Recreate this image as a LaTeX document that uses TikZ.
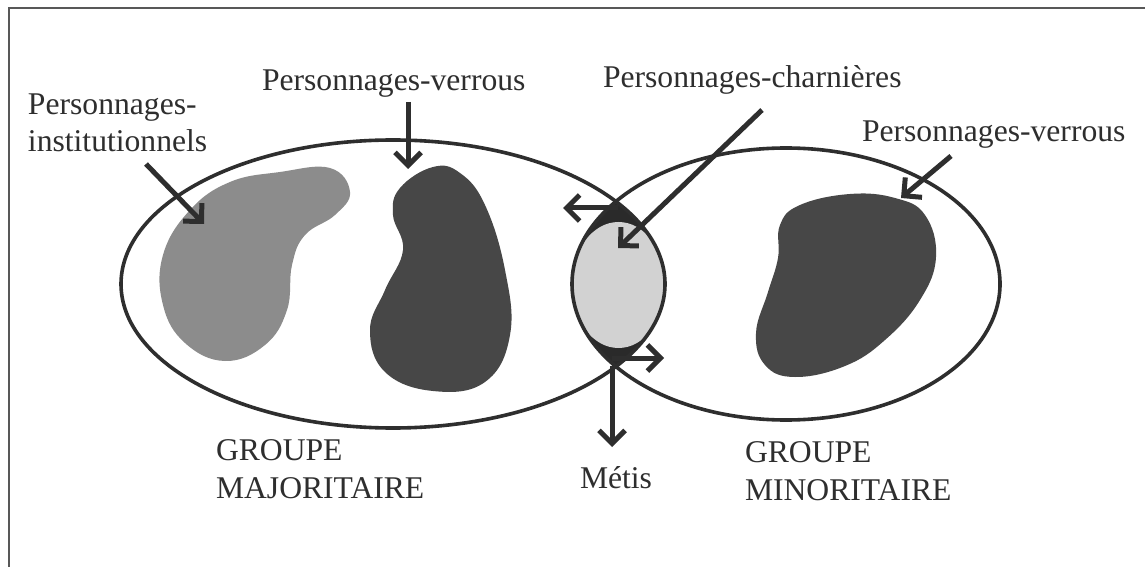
\documentclass[tikz,border=0pt]{standalone}
\usepackage{fontspec}
\setmainfont{Liberation Serif}
\usetikzlibrary{arrows.meta}
\definecolor{ink}{HTML}{2E2E2E}
\definecolor{blobmid}{HTML}{8C8C8C}
\definecolor{blobdark}{HTML}{474747}
\definecolor{lenslight}{HTML}{D2D2D2}
\definecolor{lensdark}{HTML}{2A2A2A}
\begin{document}
\begin{tikzpicture}[x=0.02cm,y=-0.02cm,
  lbl/.style={inner sep=0pt, outer sep=0pt, text=ink, font=\fontsize{18}{21.5}\selectfont, anchor=base west, align=left},
  groupline/.style={draw=ink, line width=0.072cm},
  ptr/.style={draw=ink, line width=0.1cm, -{Straight Barb[length=0.26cm,width=0.52cm,line width=0.1cm]}},
  framel/.style={draw=ink!80, line width=0.05cm}
]
\useasboundingbox (0,0) rectangle (1145,567);
\fill[white] (0,0) rectangle (1145,567);
% frame (top and left edges)
\draw[framel] (9,567) -- (9,8) -- (1145,8);

% blobs
\fill[blobmid] plot[smooth cycle, tension=0.7] coordinates {(330,168) (280,172) (230,182) (190,210) (163,255) (163,305) (185,343) (225,361) (265,345) (287,310) (292,265) (305,235) (335,215) (350,192)};
\fill[blobdark] plot[smooth cycle, tension=0.7] coordinates {(433,167) (400,188) (393,215) (403,250) (385,290) (370,330) (385,372) (433,391) (485,382) (510,335) (505,270) (485,205) (460,173)};
\fill[blobdark] plot[smooth cycle, tension=0.7] coordinates {(850,194) (800,205) (780,225) (778,258) (768,292) (756,333) (765,365) (795,377) (845,366) (885,340) (920,300) (936,257) (925,215) (895,198)};

% lens (intersection)
\begin{scope}
  \clip (393,284) ellipse (272 and 144);
  \clip (786,284) ellipse (214 and 136);
  \fill[lensdark] (560,190) rectangle (680,380);
  \fill[lenslight] (618.5,285) ellipse (47 and 63);
\end{scope}

% groups
\draw[groupline] (393,284) ellipse (272 and 144);
\draw[groupline] (786,284) ellipse (214 and 136);

% labels
\node[lbl] (inst) at (28,152) {Personnages-\\institutionnels};
\node[lbl] (verL) at (262,91) {Personnages-verrous};
\node[lbl] (charn) at (603,88) {Personnages-charnières};
\node[lbl] (verR) at (862,142) {Personnages-verrous};
\node[lbl] (gmaj) at (216,498) {GROUPE\\MAJORITAIRE};
\node[lbl] (gmin) at (745,500) {GROUPE\\MINORITAIRE};
\node[lbl] (metis) at (580,488) {Métis};

% arrow ends
\coordinate (a1s) at (146,164);
\coordinate (a1e) at (204,224);
\coordinate (a2s) at (408,102);
\coordinate (a2e) at (408,169);
\coordinate (a3s) at (762,110);
\coordinate (a3e) at (618,248);
\coordinate (a4s) at (951,156);
\coordinate (a4e) at (901,198);
\coordinate (topcap) at (618,208);
\coordinate (leftout) at (563,208);
\coordinate (botcap) at (612,358);
\coordinate (rightout) at (664,358);
\coordinate (tipbot) at (612,366);
\coordinate (downout) at (612,447);

\draw[ptr] (a1s) -- (a1e);
\draw[ptr] (a2s) -- (a2e);
\draw[ptr] (a3s) -- (a3e);
\draw[ptr] (a4s) -- (a4e);
\draw[ptr] (topcap) -- (leftout);
\draw[ptr] (botcap) -- (rightout);
\draw[ptr] (tipbot) -- (downout);
\end{tikzpicture}
\end{document}
